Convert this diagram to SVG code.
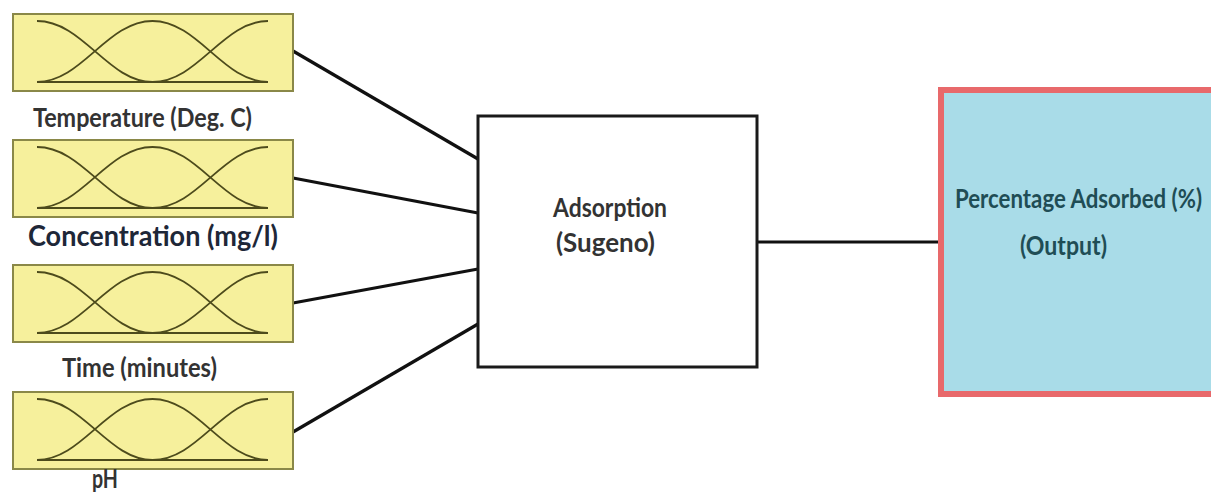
<svg xmlns="http://www.w3.org/2000/svg" width="1211" height="494" viewBox="0 0 1211 494">
<style>
.mfbox{fill:#f6f09c;stroke:#8a8848;stroke-width:2}
.mf{fill:none;stroke:#4d4b1c;stroke-width:1.8}
.conn{stroke:#111;stroke-width:3.2;fill:none}
.lbl{font-family:Lato,"Open Sans","Liberation Sans",sans-serif;font-weight:700;font-size:26px;fill:#333}
.out{font-family:Lato,"Open Sans","Liberation Sans",sans-serif;font-weight:700;font-size:26px;fill:#1f4d55}
</style>
<defs>
<g id="mfs">
<rect class="mfbox" x="0" y="0" width="280" height="77"/>
<path class="mf" d="M24,7 C70,7 95,68 139.5,68"/>
<path class="mf" d="M24,68 C69,68 94,7 139.5,7 C185,7 210,68 255,68"/>
<path class="mf" d="M139.5,68 C185,68 210,7 255,7"/>
<path class="mf" d="M24,68 H255"/>
</g>
</defs>
<g id="connectors">
<line class="conn" x1="293" y1="51" x2="478" y2="159"/>
<line class="conn" x1="293" y1="178" x2="478" y2="213"/>
<line class="conn" x1="293" y1="303" x2="478" y2="269"/>
<line class="conn" x1="293" y1="432" x2="478" y2="324"/>
<line class="conn" x1="757" y1="242" x2="939" y2="242"/>
</g>
<g id="input-temperature">
<use href="#mfs" x="13" y="14"/>
<text class="lbl" x="33" y="127" textLength="219" lengthAdjust="spacingAndGlyphs">Temperature (Deg. C)</text>
</g>
<g id="input-concentration">
<use href="#mfs" x="13" y="140"/>
<text class="lbl" x="28" y="246" textLength="250" lengthAdjust="spacingAndGlyphs" style="font-size:28px;fill:#1e2738">Concentration (mg/l)</text>
</g>
<g id="input-time">
<use href="#mfs" x="13" y="265"/>
<text class="lbl" x="62" y="377" textLength="155" lengthAdjust="spacingAndGlyphs">Time (minutes)</text>
</g>
<g id="input-ph">
<use href="#mfs" x="13" y="392"/>
<text class="lbl" x="92" y="488" textLength="26" lengthAdjust="spacingAndGlyphs">pH</text>
</g>
<g id="adsorption">
<rect x="478" y="116" width="279" height="251" fill="#fff" stroke="#1a1a1a" stroke-width="3"/>
<text class="lbl" x="553" y="217" textLength="114" lengthAdjust="spacingAndGlyphs">Adsorption</text>
<text class="lbl" x="556" y="252" textLength="99" lengthAdjust="spacingAndGlyphs">(Sugeno)</text>
</g>
<g id="output">
<rect x="941" y="90" width="300" height="304" fill="#a9dce8" stroke="#e8696b" stroke-width="6"/>
<text class="out" x="955" y="208" textLength="247" lengthAdjust="spacingAndGlyphs">Percentage Adsorbed (%)</text>
<text class="out" x="1020" y="255" textLength="87" lengthAdjust="spacingAndGlyphs">(Output)</text>
</g>
</svg>
